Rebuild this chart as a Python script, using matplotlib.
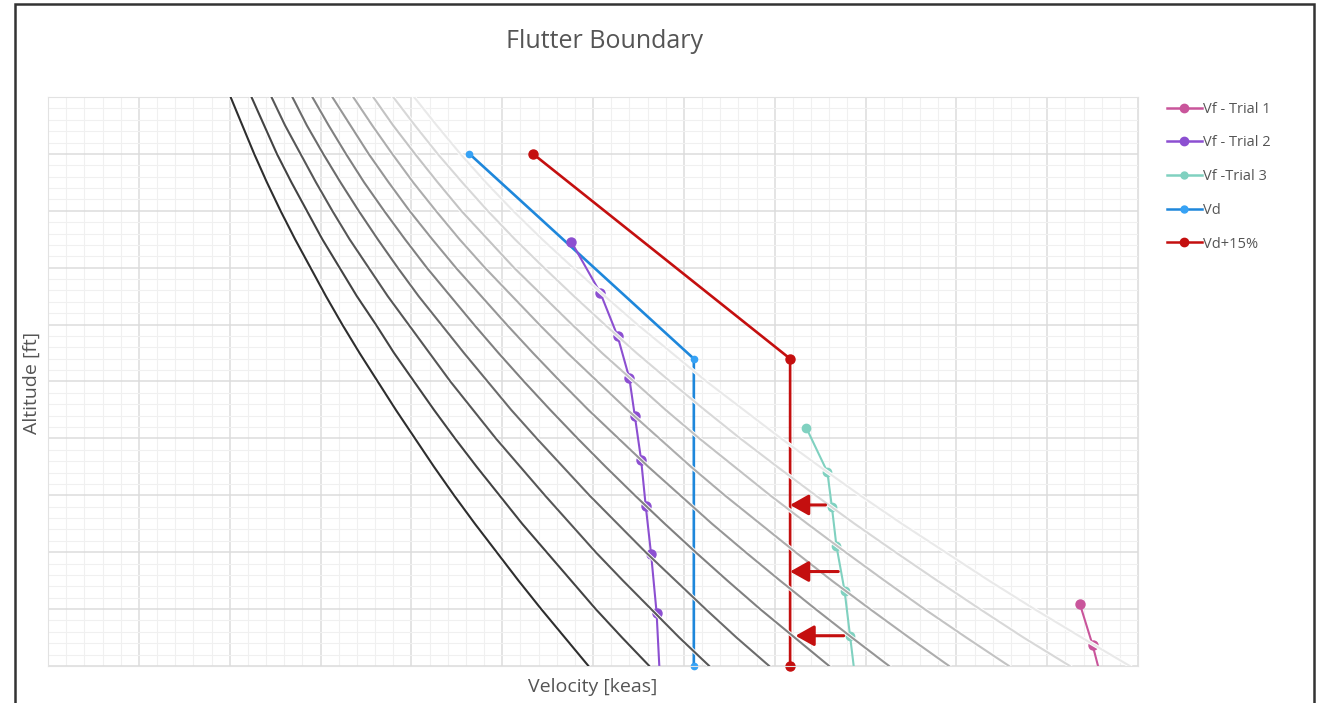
import matplotlib
matplotlib.use("Agg")
import matplotlib.pyplot as plt
import matplotlib.patheffects as pe
from matplotlib.lines import Line2D
from matplotlib.patches import Rectangle

plt.rcParams['font.family'] = ['Open Sans', 'DejaVu Sans']

# altitude stations for the grey constant-Mach curves [ft]
alt_curve = [0, 2500, 5000, 7500, 10000, 12500, 15000, 17500, 20000, 22500, 25000,
             27500, 30000, 32500, 35000, 37500, 40000, 42500, 45000, 47500, 50000]
# EAS [keas] (M 0.9 ... 1.8)
mach_curves = {
    0.9: [595, 569, 543, 518, 494, 470, 447, 425, 404, 383, 363, 343, 324, 306, 289, 272, 256, 241, 227, 214, 201],
    1.0: [662, 632, 603, 576, 549, 522, 497, 472, 448, 425, 403, 381, 361, 340, 321, 302, 285, 268, 252, 238, 224],
    1.1: [728, 695, 664, 633, 603, 575, 547, 520, 493, 468, 443, 420, 397, 374, 353, 332, 313, 295, 278, 261, 246],
    1.2: [794, 758, 724, 691, 658, 627, 596, 567, 538, 510, 484, 458, 433, 408, 385, 363, 342, 322, 303, 285, 269],
    1.3: [860, 822, 784, 748, 713, 679, 646, 614, 583, 553, 524, 496, 469, 443, 417, 393, 370, 348, 328, 309, 291],
    1.4: [926, 885, 845, 806, 768, 731, 696, 661, 628, 595, 564, 534, 505, 477, 449, 423, 398, 375, 353, 333, 313],
    1.5: [992, 948, 905, 863, 823, 784, 745, 708, 673, 638, 605, 572, 541, 511, 481, 453, 427, 402, 379, 357, 336],
    1.6: [1058, 1011, 965, 921, 878, 836, 795, 756, 717, 680, 645, 610, 577, 545, 513, 484, 455, 429, 404, 380, 358],
    1.7: [1125, 1074, 1026, 979, 933, 888, 845, 803, 762, 723, 685, 648, 613, 579, 546, 514, 484, 456, 429, 404, 380],
    1.8: [1191, 1138, 1086, 1036, 988, 940, 894, 850, 807, 766, 725, 687, 649, 613, 578, 544, 512, 482, 454, 428, 403],
}
curve_greys = ['#2e2e2e', '#434343', '#575757', '#6b6b6b', '#808080',
               '#969696', '#adadad', '#c3c3c3', '#d8d8d8', '#e9e9e9']

# flutter / design speeds
t1_v = [1136, 1150, 1156]
t1_h = [5450, 1850, 0]
t2_v = [576, 608, 627, 640, 646, 653, 658, 664, 670, 673]
t2_h = [37300, 32800, 29000, 25300, 22000, 18100, 14100, 9800, 4700, 0]
t3_v = [835, 858, 863, 868, 877, 883, 887]
t3_h = [20900, 17050, 13970, 10550, 6590, 2640, 0]
vd_v = [464, 711, 711]
vd_h = [45000, 27000, 0]
vd15_v = [534, 817, 817]
vd15_h = [45000, 27000, 0]

# margin arrows (tail velocity, head velocity, altitude)
arrow_tail = [856, 870, 876]
arrow_head = [817, 817, 823]
arrow_alt = [14150, 8300, 2660]

c_t1 = '#c9559b'
c_t2 = '#8c4fd1'
c_t3 = '#80d1c0'
c_vd = '#1e87db'
c_vd15 = '#c40f0f'

fig = plt.figure(figsize=(13.24, 7.03), dpi=100)
ax = fig.add_axes([48/1324, 37/703, 1090/1324, 569/703])
ax.set_xlim(0, 1200)
ax.set_ylim(0, 50000)

# graph-paper grid
for v in range(0, 1201, 20):
    major = v % 100 == 0
    ax.axvline(v, color='#dcdcdc' if major else '#f0f0f0', lw=1.1 if major else 0.8, zorder=0)
for h in range(0, 50001, 1000):
    major = h % 5000 == 0
    ax.axhline(h, color='#dcdcdc' if major else '#f0f0f0', lw=1.1 if major else 0.8, zorder=0)
ax.set_xticks([])
ax.set_yticks([])
for s in ax.spines.values():
    s.set_color('#e2e2e2')

# design lines
ax.plot(vd_v, vd_h, color=c_vd, lw=1.9, marker='o', ms=4.5, mfc='#36a2f5', mec='#36a2f5', zorder=2, clip_on=False)
ax.plot(vd15_v, vd15_h, color=c_vd15, lw=1.9, marker='o', ms=6.5, zorder=2, clip_on=False)

# flutter trials
ax.plot(t2_v, t2_h, color=c_t2, lw=1.5, marker='o', ms=6.5, markevery=list(range(len(t2_v) - 1)), zorder=2)
ax.plot(t3_v, t3_h, color=c_t3, lw=1.5, marker='o', ms=6, markevery=list(range(len(t3_v) - 1)), zorder=2)
ax.plot(t1_v, t1_h, color=c_t1, lw=1.5, marker='o', ms=6.5, markevery=list(range(len(t1_v) - 1)), zorder=2)

# constant Mach curves drawn over with a white halo
for (m, vals), col in zip(mach_curves.items(), curve_greys):
    ax.plot(vals, alt_curve, color=col, lw=1.5, zorder=3,
            path_effects=[pe.withStroke(linewidth=2.8, foreground='white')])

for xt, xh, h in zip(arrow_tail, arrow_head, arrow_alt):
    ax.annotate('', xy=(xh, h), xytext=(xt, h),
                arrowprops=dict(arrowstyle='-|>,head_length=0.8,head_width=0.45',
                                color=c_vd15, lw=2.2, mutation_scale=14, shrinkA=0, shrinkB=0),
                zorder=5)

fig.text(605/1324, 1 - 41/703, 'Flutter Boundary', ha='center', va='center', fontsize=18, color='#555555')
fig.text(593/1324, 1 - 687/703, 'Velocity [keas]', ha='center', va='center', fontsize=14, color='#555555')
fig.text(32/1324, 1 - 383/703, 'Altitude [ft]', ha='center', va='center', fontsize=14, color='#555555', rotation=90)

handles = [
    Line2D([], [], color=c_t1, lw=1.8, marker='o', ms=6),
    Line2D([], [], color=c_t2, lw=1.8, marker='o', ms=6),
    Line2D([], [], color=c_t3, lw=1.8, marker='o', ms=5),
    Line2D([], [], color=c_vd, lw=1.8, marker='o', ms=5, mfc='#36a2f5', mec='#36a2f5'),
    Line2D([], [], color=c_vd15, lw=1.8, marker='o', ms=6),
]
labels = ['Vf - Trial 1', 'Vf - Trial 2', 'Vf -Trial 3', 'Vd', 'Vd+15%']
leg = fig.legend(handles, labels, loc='upper left', bbox_to_anchor=(1161/1324, 1 - 96/703),
                 frameon=False, fontsize=10.5, handlelength=2.4, handletextpad=0.1,
                 labelspacing=1.28, borderaxespad=0)
for t in leg.get_texts():
    t.set_color('#555555')

# outer frame of the screenshot
fig.patches.append(Rectangle((15/1324, -0.05), 1299/1324, 1.05 - 4/703, transform=fig.transFigure,
                             fill=False, edgecolor='#333333', lw=1.8, zorder=10))

fig.savefig('out.png', dpi=100)
